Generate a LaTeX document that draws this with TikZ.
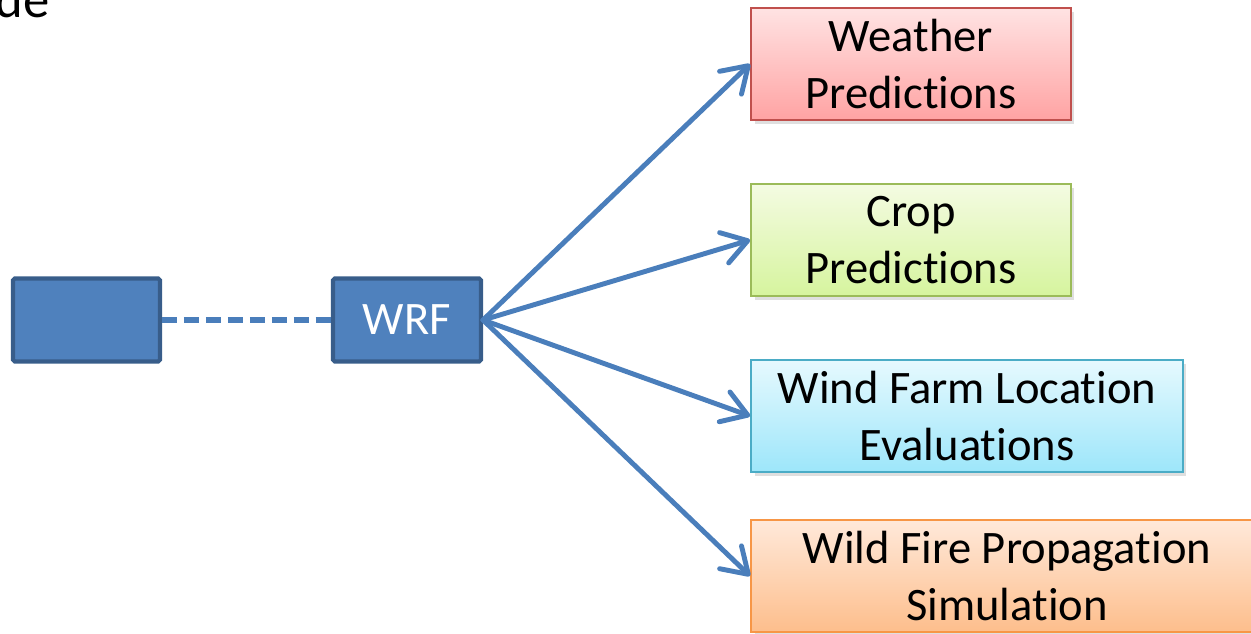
\documentclass[tikz,border=0pt]{standalone}
\usepackage{fontspec}
\setmainfont{Carlito}[Ligatures={NoCommon,NoRare,NoContextual}]
\usetikzlibrary{arrows.meta,shadows}

\newcommand{\nolig}{\kern0pt}

\definecolor{wrfblue}{HTML}{4F81BD}
\definecolor{wrfedge}{HTML}{385D8A}
\definecolor{flowblue}{HTML}{4A7EBB}

\tikzset{
	model/.style={draw=wrfedge, fill=wrfblue, line width=2.3pt, rounded corners=1pt,
		text=white, minimum width=#1, minimum height=1.66cm},
	usebox/.style={line width=1.1pt, align=center, inner sep=0pt, minimum height=2.24cm,
		font=\fontsize{26.5}{32.4}\selectfont,
		drop shadow={opacity=0.25, shadow xshift=2pt, shadow yshift=-2.5pt}},
	flow/.style={draw=flowblue, line width=2.8pt, line cap=round,
		-{Straight Barb[length=14pt, width=18pt, line width=2.8pt, round]}},
	link/.style={draw=flowblue, line width=3pt, dash pattern=on 8.5pt off 4pt}
}

\begin{document}
\begin{tikzpicture}[x=0.02cm, y=-0.02cm]

			\useasboundingbox (0,0) rectangle (1251,633);

			\node [anchor=base east, inner sep=0pt, font=\fontsize{30}{36}\selectfont] (title) at (50,17) {de};

			\node [model=2.94cm] (source) at (86.5,320) {};
			\node [model=2.96cm, font=\fontsize{26.5}{32.4}\selectfont] (wrf) at (407,320) {WRF};

			\node [usebox, draw={rgb,255:red,192;green,80;blue,77}, top color={rgb,255:red,255;green,227;blue,227},
				bottom color={rgb,255:red,255;green,163;blue,163}, minimum width=6.4cm] (weather) at (911,64) {Weather\\Predict\nolig ions};
			\node [usebox, draw={rgb,255:red,155;green,187;blue,89}, top color={rgb,255:red,244;green,251;blue,226},
				bottom color={rgb,255:red,214;green,244;blue,158}, minimum width=6.4cm] (crop) at (911,240) {Crop\\Predict\nolig ions};
			\node [usebox, draw={rgb,255:red,75;green,172;blue,198}, top color={rgb,255:red,230;green,249;blue,254},
				bottom color={rgb,255:red,157;green,230;blue,250}, minimum width=8.64cm] (wind) at (967,416) {Wind Farm Locat\nolig ion\\Evaluat\nolig ions};
			\node [usebox, draw={rgb,255:red,247;green,150;blue,70}, top color={rgb,255:red,255;green,233;blue,218},
				bottom color={rgb,255:red,253;green,190;blue,140}, minimum width=10.24cm] (fire) at (1007,576) {Wild Fire Propagat\nolig ion\\Simulat\nolig ion};

			\draw [link] (source.east) -- (wrf.west);

			\foreach \t in {weather, crop, wind, fire} {\draw [flow] (wrf.east) -- (\t.west);}

		\end{tikzpicture}
\end{document}
